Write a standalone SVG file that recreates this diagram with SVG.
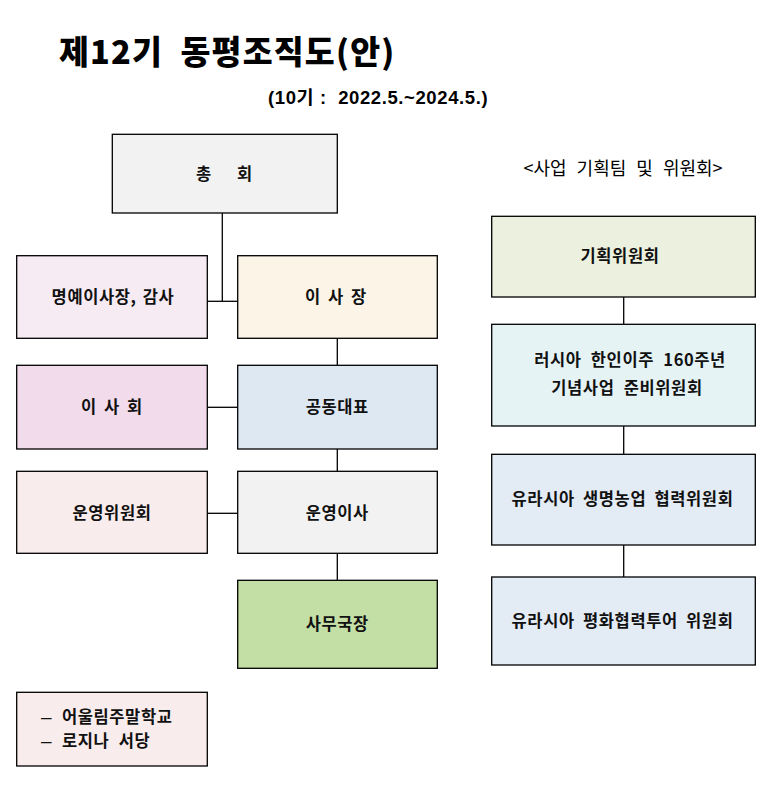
<svg xmlns="http://www.w3.org/2000/svg" width="774" height="793" viewBox="0 0 774 793">
<style>
.box{stroke:#000;stroke-width:1.3}
.lbl{font-family:"Noto Sans CJK KR","Noto Sans",sans-serif;font-size:16.5px;font-weight:700;fill:#111;text-anchor:middle;letter-spacing:0.6px}
.dash{font-family:"Liberation Sans",sans-serif;font-size:19px;font-weight:400}
.conn line{stroke:#000;stroke-width:1.3}
</style>
<rect width="774" height="793" fill="#fff"/>
<text x="59" y="64" font-family="'Noto Sans CJK KR','Liberation Sans',sans-serif" font-size="32.5" font-weight="900" fill="#000" letter-spacing="1.2" xml:space="preserve">제12기  동평조직도(안)</text>
<text x="268" y="104" font-family="'Liberation Sans','Noto Sans CJK KR',sans-serif" font-size="18.5" font-weight="700" fill="#000" letter-spacing="0.6" xml:space="preserve">(10기 :  2022.5.~2024.5.)</text>
<text x="623" y="175" font-family="'Noto Sans CJK KR',sans-serif" font-size="18" fill="#000" text-anchor="middle" word-spacing="6">&lt;사업 기획팀 및 위원회&gt;</text>
<g class="conn" id="connectors">
<line x1="222.3" y1="213" x2="222.3" y2="301.3"/>
<line x1="207.3" y1="301.3" x2="237.7" y2="301.3"/>
<line x1="337.3" y1="338.3" x2="337.3" y2="365.3"/>
<line x1="207.3" y1="407.3" x2="237.7" y2="407.3"/>
<line x1="337.3" y1="449" x2="337.3" y2="471.3"/>
<line x1="207.3" y1="513.3" x2="237.7" y2="513.3"/>
<line x1="337.3" y1="553.3" x2="337.3" y2="580.3"/>
<line x1="623.7" y1="297" x2="623.7" y2="324.3"/>
<line x1="623.7" y1="426" x2="623.7" y2="454.3"/>
<line x1="623.7" y1="545" x2="623.7" y2="577"/>
</g>
<g id="chonghoe">
<rect class="box" x="112.3" y="134.3" width="225" height="78.7" fill="#f2f2f2"/>
<text class="lbl"><tspan x="204" y="180">총</tspan><tspan x="245" y="180">회</tspan></text>
</g>
<g id="honorary">
<rect class="box" x="16.7" y="255.7" width="190.6" height="82.6" fill="#f7ebf3"/>
<text class="lbl" x="113" y="303" word-spacing="2">명예이사장, 감사</text>
</g>
<g id="chairman">
<rect class="box" x="237.7" y="255.7" width="199.6" height="82.6" fill="#fcf5e7"/>
<text class="lbl"><tspan x="313" y="303">이</tspan><tspan x="336" y="303">사</tspan><tspan x="359" y="303">장</tspan></text>
</g>
<g id="board">
<rect class="box" x="16.7" y="365.3" width="190.6" height="83.7" fill="#f2dcec"/>
<text class="lbl"><tspan x="89" y="413">이</tspan><tspan x="112" y="413">사</tspan><tspan x="135" y="413">회</tspan></text>
</g>
<g id="corep">
<rect class="box" x="237.7" y="365.3" width="199.6" height="83.7" fill="#dee8f3"/>
<text class="lbl" x="337.3" y="413">공동대표</text>
</g>
<g id="opcommittee">
<rect class="box" x="16.7" y="471.3" width="190.6" height="82" fill="#f9ecec"/>
<text class="lbl" x="112" y="519">운영위원회</text>
</g>
<g id="opdirector">
<rect class="box" x="237.7" y="471.3" width="199.6" height="82" fill="#f2f2f2"/>
<text class="lbl" x="337.3" y="519">운영이사</text>
</g>
<g id="secretary">
<rect class="box" x="237.7" y="580.3" width="199.6" height="88" fill="#c4dfa5"/>
<text class="lbl" x="337.3" y="630">사무국장</text>
</g>
<g id="schools">
<rect class="box" x="16.7" y="692.3" width="190.6" height="73.7" fill="#f9ecec"/>
<text class="lbl" style="text-anchor:start;font-size:16.5px" word-spacing="5"><tspan class="dash" x="41" y="723">–</tspan><tspan x="62" y="723">어울림주말학교</tspan><tspan class="dash" x="41" y="747">–</tspan><tspan x="62" y="747">로지나 서당</tspan></text>
</g>
<g id="planning">
<rect class="box" x="491.7" y="216.3" width="263.6" height="80.7" fill="#ebf1de"/>
<text class="lbl" x="620" y="262">기획위원회</text>
</g>
<g id="russia160">
<rect class="box" x="491.7" y="324.3" width="263.6" height="101.7" fill="#e6f3f5"/>
<text class="lbl" word-spacing="5"><tspan x="630" y="366">러시아 한인이주 160주년</tspan><tspan x="627" y="394">기념사업 준비위원회</tspan></text>
</g>
<g id="eurasiaagri">
<rect class="box" x="491.7" y="454.3" width="263.6" height="90.7" fill="#e3ebf5"/>
<text class="lbl" x="622.5" y="505" word-spacing="4">유라시아 생명농업 협력위원회</text>
</g>
<g id="eurasiapeace">
<rect class="box" x="491.7" y="577" width="263.6" height="88" fill="#e3ebf5"/>
<text class="lbl" x="622.5" y="627" word-spacing="4">유라시아 평화협력투어 위원회</text>
</g>
</svg>
